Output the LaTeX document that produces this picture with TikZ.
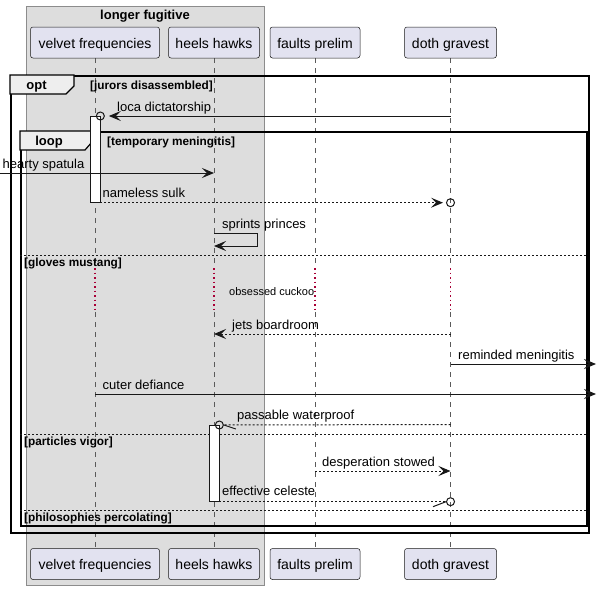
\documentclass[tikz,border=0pt]{standalone}
\usepackage{fontspec}
\setmainfont{Liberation Sans}
\usetikzlibrary{arrows.meta}

\definecolor{ink}{HTML}{181818}
\definecolor{partfill}{HTML}{E2E2F0}
\definecolor{boxfill}{HTML}{DDDDDD}
\definecolor{boxborder}{HTML}{8C8C8C}
\definecolor{tabfill}{HTML}{EEEEEE}
\definecolor{lifegray}{HTML}{5A5A5A}
\definecolor{delayred}{HTML}{A80036}

\tikzset{
  part/.style={draw=ink, fill=partfill, rounded corners=2.5pt, line width=0.5pt,
    minimum height=31pt, inner sep=0pt, text height=12pt, text depth=1pt,
    font=\fontsize{14}{16}\selectfont},
  lifeline/.style={draw=lifegray, line width=0.6pt, dash pattern=on 5pt off 5pt},
  delayline/.style={draw=delayred, line width=1.3pt, dash pattern=on 1.5pt off 3pt},
  msg/.style={draw=ink, line width=1pt},
  dmsg/.style={msg, dash pattern=on 2pt off 2pt},
  headed/.style={-{Stealth[length=12pt,width=10pt,inset=5pt]}},
  lbl/.style={font=\fontsize{13}{15}\selectfont, anchor=base west, inner sep=0pt},
  smalllbl/.style={font=\fontsize{11}{13}\selectfont, anchor=base west, inner sep=0pt},
  condlbl/.style={font=\bfseries\fontsize{11.8}{13}\selectfont, anchor=base west, inner sep=0pt},
  framebox/.style={draw=black, line width=1.5pt, anchor=north west, inner sep=0pt},
  tabshape/.style={draw=black, fill=tabfill, line width=1.2pt},
  tablbl/.style={font=\bfseries\fontsize{13}{15}\selectfont, anchor=base, inner sep=0pt},
  sepline/.style={draw=ink, line width=1pt, dash pattern=on 2pt off 2pt},
  actbar/.style={draw=ink, fill=white, line width=0.7pt, minimum width=10pt,
    inner sep=0pt, anchor=north},
  endc/.style={circle, draw=ink, line width=1pt, minimum size=8pt, inner sep=0pt},
}

\begin{document}
\begin{tikzpicture}[x=1pt, y=-1pt]
\useasboundingbox (0,0) rectangle (598,590);

% grouping box
\node[draw=boxborder, fill=boxfill, line width=1pt, anchor=north west,
  minimum width=238pt, minimum height=579pt, inner sep=0pt] (grp) at (26,6) {};
\node[font=\bfseries\fontsize{13}{15}\selectfont, anchor=base, inner sep=0pt]
  (grpT) at (145,19.5) {longer fugitive};

% participant heads and feet (outline only here, drawn on top below)
\path (95,42.5) node[minimum width=129pt, minimum height=31pt] (vfT) {}
      (214,42.5) node[minimum width=91pt, minimum height=31pt] (hhT) {}
      (315,42.5) node[minimum width=90pt, minimum height=31pt] (fpT) {}
      (450.5,42.5) node[minimum width=92pt, minimum height=31pt] (dgT) {}
      (95,564) node[minimum width=129pt, minimum height=31pt] (vfB) {}
      (214,564) node[minimum width=91pt, minimum height=31pt] (hhB) {}
      (315,564) node[minimum width=90pt, minimum height=31pt] (fpB) {}
      (450.5,564) node[minimum width=92pt, minimum height=31pt] (dgB) {};

% lifelines, with the delay stretch dotted
\foreach \p in {vf, hh, fp, dg} {
  \draw[lifeline] (\p T) -- (\p T |- 0,268);
  \draw[delayline] (\p T |- 0,268) -- (\p T |- 0,312);
  \draw[lifeline] (\p T |- 0,312) -- (\p B);
}

% opt frame
\node[framebox, minimum width=578pt, minimum height=457pt] (optF) at (10,75) {};
\draw[tabshape] (10,75) -- (74,75) -- (74,86) -- (66,94) -- (10,94) -- cycle;
\node[tablbl] (optL) at (36.5,89.5) {opt};
\node[condlbl] (optC) at (90,89.5) {[jurors disassembled]};

% loop frame
\node[framebox, minimum width=566pt, minimum height=394pt] (loopF) at (20,131) {};
\draw[tabshape] (20,131) -- (92,131) -- (92,142) -- (85,150) -- (20,150) -- cycle;
\node[tablbl] (loopL) at (49,145.5) {loop};
\node[condlbl] (loopC) at (107,145.5) {[temporary meningitis]};

% loop separators
\draw[sepline] (loopF.west |- 0,255) -- (loopF.east |- 0,255);
\node[condlbl] (s1) at (24,266.5) {[gloves mustang]};
\draw[sepline] (loopF.west |- 0,434) -- (loopF.east |- 0,434);
\node[condlbl] (s2) at (24,445.5) {[particles vigor]};
\draw[sepline] (loopF.west |- 0,510) -- (loopF.east |- 0,510);
\node[condlbl] (s3) at (24,521.5) {[philosophies percolating]};

% activation bars
\node[actbar, minimum height=86pt] (actV) at (95,116) {};
\node[actbar, minimum height=76pt] (actH) at (214,425) {};

% free ends at the picture's borders
\coordinate (inL) at (0,173);
\coordinate (outA) at (596,364);
\coordinate (outB) at (596,394);

% messages
\node[endc] (c1) at (actV.north east) {};
\draw[msg, headed, shorten >=4pt] (dgT |- 0,116) -- (c1);
\node[lbl] at (117,111) {loca dictatorship};

\draw[msg, headed] (inL) -- (hhT |- 0,173);
\node[lbl] at (2.5,168) {hearty spatula};

\node[endc] (c2) at (dgT |- actV.south) {};
\draw[dmsg, headed, shorten >=3pt] (actV.south east) -- (c2);
\node[lbl] at (102.5,197) {nameless sulk};

\draw[msg, headed] (hhT |- 0,233) -- ++(43,0) -- ++(0,13) -- (hhT |- 0,246);
\node[lbl] at (222,228) {sprints princes};

\node[smalllbl] at (229,295.5) {obsessed cuckoo};

\draw[dmsg, headed] (dgT |- 0,334) -- (hhT |- 0,334);
\node[lbl] at (232,329) {jets boardroom};

\draw[msg, headed] (dgT |- 0,364) -- (outA);
\node[lbl] at (458,359) {reminded meningitis};

\draw[msg, headed] (vfT |- 0,394) -- (outB);
\node[lbl] at (102.5,389) {cuter defiance};

\node[endc] (c3) at (actH.north east) {};
\draw[dmsg] (dgT |- 0,424.5) -- (c3);
\draw[msg] (c3.east) -- ++(12,4);
\node[lbl] at (237,419.5) {passable waterproof};

\draw[dmsg, headed] (fpT |- 0,471) -- (dgT |- 0,471);
\node[lbl] at (322,466) {desperation stowed};

\node[endc] (c4) at (dgT |- actH.south) {};
\draw[dmsg] (actH.south east) -- (c4);
\draw[msg] (c4.west) -- ++(-13,5);
\node[lbl] at (222,495.5) {effective celeste};

% participant boxes
\node[part, minimum width=129pt] at (vfT) {velvet frequencies};
\node[part, minimum width=91pt] at (hhT) {heels hawks};
\node[part, minimum width=90pt] at (fpT) {faults prelim};
\node[part, minimum width=92pt] at (dgT) {doth gravest};
\node[part, minimum width=129pt] at (vfB) {velvet frequencies};
\node[part, minimum width=91pt] at (hhB) {heels hawks};
\node[part, minimum width=90pt] at (fpB) {faults prelim};
\node[part, minimum width=92pt] at (dgB) {doth gravest};
\end{tikzpicture}
\end{document}
